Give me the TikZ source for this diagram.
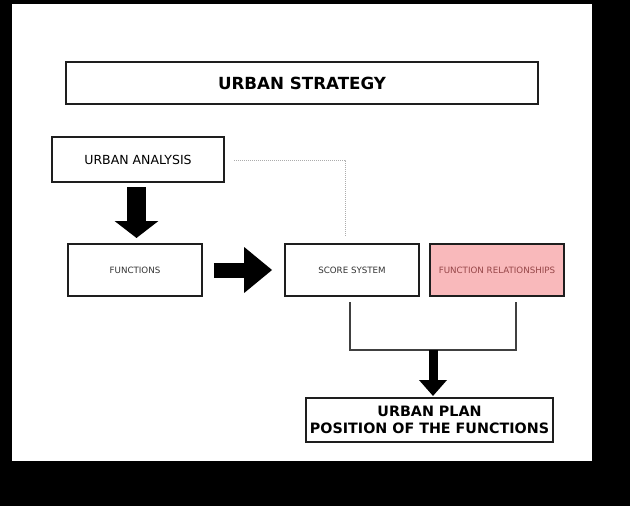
\documentclass[tikz,border=0pt]{standalone}
\usepackage{fontspec}
\setmainfont{DejaVu Sans}
\usetikzlibrary{arrows.meta}
\definecolor{pinkfill}{RGB}{249,185,187}
\definecolor{pinktext}{RGB}{150,70,72}
\definecolor{boxline}{RGB}{30,30,30}
\tikzset{
  box/.style={draw=boxline, line width=1.6pt, fill=white, inner sep=0pt, align=center},
  smalltext/.style={font=\fontsize{8.7}{10}\selectfont, text=black!80},
  dotline/.style={draw=gray!65, line width=1pt, dash pattern=on 1pt off 1pt},
  bracket/.style={draw=black!75, line width=1.3pt}
}
\begin{document}
\begin{tikzpicture}[x=1pt,y=-1pt]
\fill[black] (0,0) rectangle (630,506);
\fill[white] (12,4) rectangle (592,461);
\useasboundingbox (0,0) rectangle (630,506);

\node[box, minimum width=472pt, minimum height=42pt, font=\bfseries\fontsize{16.7}{20}\selectfont] (us) at (302,83) {URBAN STRATEGY};
\node[box, minimum width=172pt, minimum height=45pt, font=\fontsize{12.5}{15}\selectfont] (ua) at (138,159.5) {URBAN ANALYSIS};
\node[box, minimum width=134pt, minimum height=52pt, smalltext] (fn) at (135,270) {FUNCTIONS};
\node[box, minimum width=134pt, minimum height=52pt, smalltext] (ss) at (352,270) {SCORE SYSTEM};
\node[box, fill=pinkfill, minimum width=134pt, minimum height=52pt, smalltext, text=pinktext] (fr) at (497,270) {FUNCTION RELATIONSHIPS};
\node[box, minimum width=247pt, minimum height=44pt, font=\bfseries\fontsize{14.3}{17.5}\selectfont] (up) at (429.5,420) {URBAN PLAN\\POSITION OF THE FUNCTIONS};

% big arrows
\coordinate (a1) at (136.5,187);
\coordinate (a2) at (136.5,238);
\draw[line width=19pt, -{Triangle[length=17pt,width=43pt]}] (a1) -- (a2);
\draw[line width=15pt, -{Triangle[length=28pt,width=44pt]}] ([xshift=11pt]fn.east) -- ([xshift=-12pt]ss.west);

% dotted link
\coordinate (d1) at (234,160);
\coordinate (d2) at (345,160);
\coordinate (d3) at (345,237);
\draw[dotline] (d1) -- (d2) -- (d3);

% bracket
\coordinate (b1) at (350,302);
\coordinate (b2) at (350,350);
\coordinate (b3) at (516,350);
\coordinate (b4) at (516,302);
\draw[bracket] (b1) -- (b2) -- (b3) -- (b4);
\coordinate (bm) at (433,350);
\coordinate (bt) at (433,396);
\draw[line width=9pt, -{Triangle[length=16pt,width=27pt]}] (bm) -- (bt);
\end{tikzpicture}
\end{document}
